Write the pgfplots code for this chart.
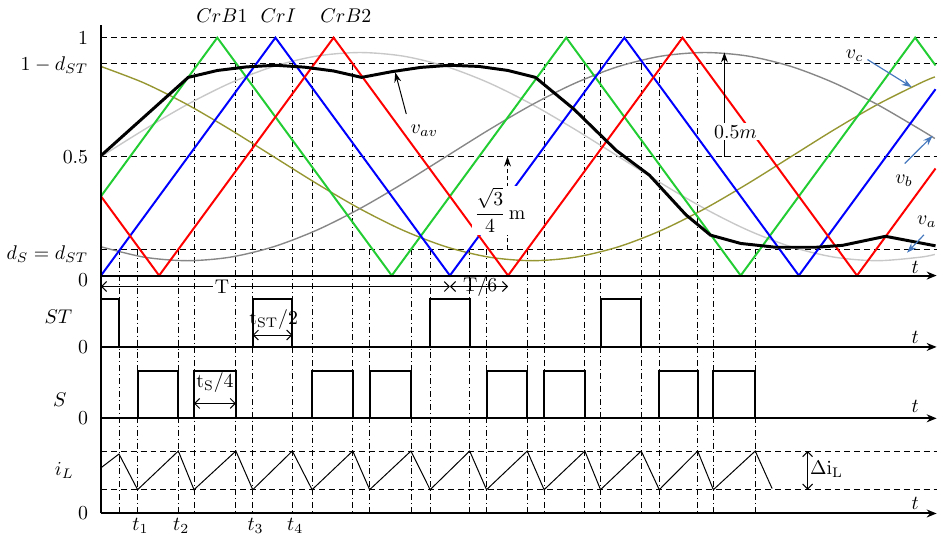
\documentclass[border=0pt]{standalone}
\usepackage{pgfplots}
\pgfplotsset{compat=1.18}
\usetikzlibrary{arrows.meta}
\definecolor{cgreen}{RGB}{34,204,51}
\definecolor{cblue}{RGB}{0,0,255}
\definecolor{cred}{RGB}{255,0,0}
\definecolor{colive}{RGB}{150,150,50}
\definecolor{cdgray}{RGB}{135,135,135}
\definecolor{clgray}{RGB}{200,200,200}
\definecolor{carrow}{RGB}{70,120,190}
\newcommand{\vl}[2]{\addplot[vdash] coordinates {(#1,#2) (#1,-1)};}
\newcommand{\hl}[1]{\addplot[gridd] coordinates {(0,#1) (14.369,#1)};}
\begin{document}
\begin{tikzpicture}
\begin{axis}[scale only axis, width=471.5pt, height=269.5pt,
  xmin=-1.7045, xmax=14.369, ymin=-1.0875, ymax=1.1583,
  hide axis, clip=false,
  every axis plot/.append style={mark=none},
  gridd/.style={black, line width=0.5pt, dash pattern=on 3pt off 2pt},
  vdash/.style={black, line width=0.45pt, dash pattern=on 3pt off 1.5pt on 0.5pt off 1.5pt},
  axisl/.style={black, line width=1pt, -{Stealth[length=5pt,width=4pt]}},
  barb/.style={black, line width=0.5pt, {Straight Barb[length=2.5pt,width=5pt]}-{Straight Barb[length=2.5pt,width=5pt]}},
]
% bounding
\addplot[draw=none] coordinates {(-1.7045,-1.0875) (14.369,1.1583)};
% horizontal grid lines
\hl{1}\hl{0.89}\hl{0.5}\hl{0.11}\hl{-0.7375}\hl{-0.9}
% vertical dash-dot lines
\vl{0.31}{0.11}\vl{0.63}{0.11}\vl{1.33}{0.11}\vl{1.60}{0.89}\vl{2.32}{0.89}
\vl{2.61}{0.89}\vl{3.29}{0.89}\vl{3.63}{0.89}\vl{4.33}{0.89}\vl{4.62}{0.11}
\vl{5.33}{0.11}\vl{5.66}{0.11}\vl{6.34}{0.11}\vl{6.63}{0.11}\vl{7.33}{0.11}
\vl{7.62}{0.89}\vl{8.32}{0.89}\vl{8.59}{0.89}\vl{9.29}{0.89}\vl{9.60}{0.89}
\vl{10.26}{0.89}\vl{10.53}{0.11}\vl{11.25}{0.11}
% sinusoids
\addplot[clgray, line width=0.7pt, smooth] coordinates {(0,0.5) (0.7417,0.6132) (1.4833,0.7188) (2.225,0.8094) (2.9667,0.8789) (3.7083,0.9226) (4.45,0.9375) (5.1917,0.9226) (5.9333,0.8789) (6.675,0.8094) (7.4167,0.7188) (8.1583,0.6132) (8.9,0.5) (9.6417,0.3868) (10.3833,0.2812) (11.125,0.1906) (11.8667,0.1211) (12.6083,0.0774) (13.35,0.0625) (14.0917,0.0774) (14.3389,0.0889)};
\addplot[colive, line width=0.7pt, smooth] coordinates {(0,0.8789) (0.7417,0.8094) (1.4833,0.7188) (2.225,0.6132) (2.9667,0.5) (3.7083,0.3868) (4.45,0.2812) (5.1917,0.1906) (5.9333,0.1211) (6.675,0.0774) (7.4167,0.0625) (8.1583,0.0774) (8.9,0.1211) (9.6417,0.1906) (10.3833,0.2812) (11.125,0.3868) (11.8667,0.5) (12.6083,0.6132) (13.35,0.7188) (14.0917,0.8094) (14.3389,0.8351)};
\addplot[cdgray, line width=0.7pt, smooth] coordinates {(0,0.1211) (0.7417,0.0774) (1.4833,0.0625) (2.225,0.0774) (2.9667,0.1211) (3.7083,0.1906) (4.45,0.2812) (5.1917,0.3868) (5.9333,0.5) (6.675,0.6132) (7.4167,0.7188) (8.1583,0.8094) (8.9,0.8789) (9.6417,0.9226) (10.3833,0.9375) (11.125,0.9226) (11.8667,0.8789) (12.6083,0.8094) (13.35,0.7188) (14.0917,0.6132) (14.3389,0.5760)};
% carriers
\addplot[cgreen, line width=1pt] coordinates {(0,0.3333) (2,1) (5,0) (8,1) (11,0) (14,1) (14.35,0.8833)};
\addplot[cblue, line width=1pt] coordinates {(0,0) (3,1) (6,0) (9,1) (12,0) (14.35,0.7833)};
\addplot[cred, line width=1pt] coordinates {(0,0.3333) (1,0) (4,1) (7,0) (10,1) (13,0) (14.35,0.45)};
% v_av
\addplot[black, line width=1.5pt] coordinates {(0,0.504) (1.5,0.833) (2.0,0.862) (2.5,0.877) (3.0,0.884) (3.5,0.876) (4.0,0.860) (4.48,0.833) (5.0,0.857) (5.5,0.875) (6.0,0.884) (6.5,0.879) (7.0,0.862) (7.47,0.833) (8.13,0.70) (8.86,0.526) (9.43,0.422) (10.06,0.255) (10.48,0.17) (11.0,0.135) (11.6,0.119) (12.3,0.119) (12.75,0.127) (13.49,0.165) (14.35,0.125)};
% ST pulses
\addplot[black, line width=1pt] coordinates {(0,-0.1) (0.31,-0.1) (0.31,-0.3) (2.61,-0.3) (2.61,-0.1) (3.29,-0.1) (3.29,-0.3) (5.66,-0.3) (5.66,-0.1) (6.34,-0.1) (6.34,-0.3) (8.59,-0.3) (8.59,-0.1) (9.29,-0.1) (9.29,-0.3)};
% S pulses
\addplot[black, line width=1pt] coordinates {(0.63,-0.6) (0.63,-0.4) (1.33,-0.4) (1.33,-0.6) (1.60,-0.6) (1.60,-0.4) (2.32,-0.4) (2.32,-0.6) (3.63,-0.6) (3.63,-0.4) (4.33,-0.4) (4.33,-0.6) (4.62,-0.6) (4.62,-0.4) (5.33,-0.4) (5.33,-0.6) (6.63,-0.6) (6.63,-0.4) (7.33,-0.4) (7.33,-0.6) (7.62,-0.6) (7.62,-0.4) (8.32,-0.4) (8.32,-0.6) (9.60,-0.6) (9.60,-0.4) (10.26,-0.4) (10.26,-0.6) (10.53,-0.6) (10.53,-0.4) (11.25,-0.4) (11.25,-0.6)};
% iL
\addplot[black, line width=0.5pt] coordinates {(0,-0.808) (0.31,-0.75) (0.63,-0.9) (1.33,-0.7375) (1.60,-0.9) (2.32,-0.7375) (2.61,-0.9) (3.29,-0.7375) (3.63,-0.9) (4.33,-0.7375) (4.62,-0.9) (5.33,-0.7375) (5.66,-0.9) (6.34,-0.7375) (6.63,-0.9) (7.33,-0.7375) (7.62,-0.9) (8.32,-0.7375) (8.59,-0.9) (9.29,-0.7375) (9.60,-0.9) (10.26,-0.7375) (10.53,-0.9) (11.25,-0.7375) (11.54,-0.895)};
% axes
\addplot[black, line width=1pt] coordinates {(0,-1) (0,1.054)};
\addplot[axisl] coordinates {(0,0) (14.369,0)};
\addplot[axisl] coordinates {(0,-0.3) (14.369,-0.3)};
\addplot[axisl] coordinates {(0,-0.6) (14.369,-0.6)};
\addplot[axisl] coordinates {(0,-1) (14.369,-1)};
% T arrows
\addplot[barb] coordinates {(0,-0.046) (6,-0.046)};
\addplot[barb] coordinates {(6,-0.046) (7,-0.046)};
\node[fill=white, inner sep=1pt] at (axis cs:2.08,-0.046) {T};
\node[inner sep=0pt] at (axis cs:6.52,-0.046) {T/6};
% tST/2 and tS/4
\addplot[barb] coordinates {(2.61,-0.25) (3.29,-0.25)};
\node at (axis cs:2.97,-0.183) {$\mathrm{t_{ST}/2}$};
\addplot[barb] coordinates {(1.60,-0.5375) (2.32,-0.5375)};
\node at (axis cs:1.96,-0.45) {$\mathrm{t_S/4}$};
% Delta iL
\addplot[barb] coordinates {(12.15,-0.7375) (12.15,-0.9)};
\node[anchor=west, inner sep=0.5pt] at (axis cs:12.17,-0.815) {$\mathrm{\Delta i_L}$};
% 0.5m
\addplot[black, line width=0.5pt, -{Stealth[length=5pt,width=3.5pt]}] coordinates {(10.72,0.5) (10.72,0.9375)};
\node[fill=white, inner sep=1pt] at (axis cs:10.91,0.604) {$0.5m$};
% sqrt3/4 m
\addplot[black, line width=0.5pt, dash pattern=on 2pt off 1.5pt, -{Stealth[length=5pt,width=3.5pt]}] coordinates {(6.99,0.11) (6.99,0.5)};
\node[fill=white, inner sep=1pt] at (axis cs:6.86,0.275) {$\displaystyle\frac{\sqrt{3}}{4}\,\mathrm{m}$};
% v_av arrow
\addplot[black, line width=0.5pt, -{Stealth[length=5pt,width=3.5pt]}] coordinates {(5.25,0.679) (5.06,0.854)};
\node at (axis cs:5.56,0.608) {$v_{av}$};
% v labels
\addplot[carrow, line width=0.6pt, -{Stealth[length=5pt,width=3.5pt]}] coordinates {(13.18,0.908) (13.94,0.792)};
\node at (axis cs:12.96,0.925) {$v_c$};
\addplot[carrow, line width=0.6pt, -{Stealth[length=5pt,width=3.5pt]}] coordinates {(13.82,0.471) (14.30,0.5875)};
\node at (axis cs:13.81,0.40) {$v_b$};
\addplot[carrow, line width=0.6pt, -{Stealth[length=5pt,width=3.5pt]}] coordinates {(14.15,0.171) (13.86,0.096)};
\node at (axis cs:14.2,0.225) {$v_a$};
% carrier names
\node at (axis cs:2.08,1.092) {$CrB1$};
\node at (axis cs:3.05,1.092) {$CrI$};
\node at (axis cs:4.21,1.092) {$CrB2$};
% y labels
\node[anchor=east] at (axis cs:-0.1,1.0) {$1$};
\node[anchor=east] at (axis cs:-0.1,0.885) {$1-d_{ST}$};
\node[anchor=east] at (axis cs:-0.1,0.5) {$0.5$};
\node[anchor=east] at (axis cs:-0.1,0.09) {$d_S=d_{ST}$};
\node[anchor=east] at (axis cs:-0.1,-0.02) {$0$};
\node at (axis cs:-0.73,-0.175) {$ST$};
\node[anchor=east] at (axis cs:-0.1,-0.3) {$0$};
\node at (axis cs:-0.71,-0.52) {$S$};
\node[anchor=east] at (axis cs:-0.1,-0.6) {$0$};
\node at (axis cs:-0.63,-0.82) {$i_L$};
\node[anchor=east] at (axis cs:-0.1,-1.0) {$0$};
% t labels
\node at (axis cs:14.0,0.033) {$t$};
\node at (axis cs:14.0,-0.258) {$t$};
\node at (axis cs:14.0,-0.55) {$t$};
\node at (axis cs:14.0,-0.958) {$t$};
\node[anchor=north west, inner sep=1pt] at (axis cs:0.5,-1.01) {$t_1$};
\node[anchor=north west, inner sep=1pt] at (axis cs:1.2,-1.01) {$t_2$};
\node[anchor=north west, inner sep=1pt] at (axis cs:2.48,-1.01) {$t_3$};
\node[anchor=north west, inner sep=1pt] at (axis cs:3.16,-1.01) {$t_4$};
\end{axis}
\end{tikzpicture}
\end{document}
